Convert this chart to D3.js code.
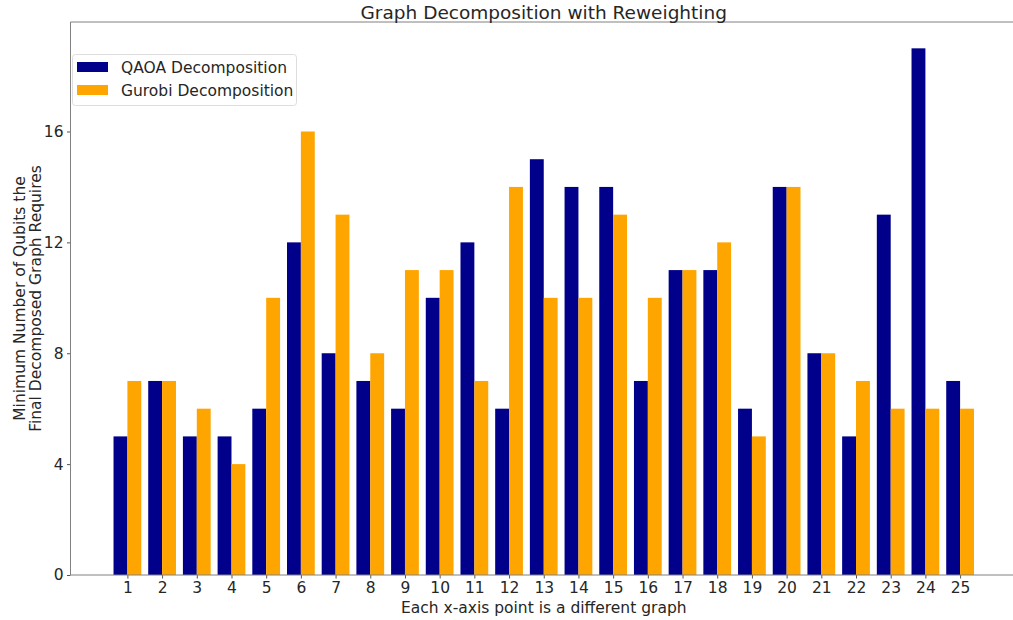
<!DOCTYPE html>
<html><head><meta charset="utf-8">
<script src="https://cdn.jsdelivr.net/npm/d3@7"></script>
<style>body{margin:0;background:#fff;overflow:hidden}svg{display:block;font-family:"DejaVu Sans",sans-serif}</style>
</head><body><svg id="c" width="1013" height="620"></svg>
<script>
const categories = d3.range(1, 26);
const qaoa   = [5,7,5,5,6,12,8,7,6,10,12,6,15,14,14,7,11,11,6,14,8,5,13,19,7];
const gurobi = [7,7,6,4,10,16,13,8,11,11,7,14,10,10,13,10,11,12,5,14,8,7,6,6,6];
const yTicks = [0,4,8,12,16];
const seriesNames = ["QAOA Decomposition","Gurobi Decomposition"];
const colors = ["#00008B","#FFA500"];

const svg = d3.select("#c");
const L = 70.5, R = 1017, T = 22, B = 575;
const x = d3.scaleLinear().domain([-0.64, 26.64]).range([L, R]);
const y = d3.scaleLinear().domain([0, 19.95]).range([B, T]);
const bw = 0.4;

const series = [qaoa, gurobi];
series.forEach((vals, s) => {
  svg.append("g").selectAll("rect").data(vals).enter().append("rect")
    .attr("x", (d,i) => x(categories[i] + (s===0 ? -bw : 0)))
    .attr("width", x(bw) - x(0))
    .attr("y", d => y(d))
    .attr("height", d => y(0) - y(d))
    .attr("fill", colors[s]);
});

// axes
const xAxis = svg.append("g").attr("transform", `translate(0,${B})`)
  .call(d3.axisBottom(x).tickValues(categories).tickSize(3.5).tickPadding(3.5).tickFormat(d3.format("d")));
const yAxis = svg.append("g").attr("transform", `translate(${L},0)`)
  .call(d3.axisLeft(y).tickValues(yTicks).tickSize(3.5).tickPadding(3.5));
[xAxis, yAxis].forEach(g => {
  g.attr("font-family", null).attr("font-size", null);
  g.select(".domain").remove();
  g.selectAll("line").attr("stroke", "#555");
  g.selectAll("text").attr("fill", "#262626").style("font-size", "15.5px").style("font-family", "DejaVu Sans");
});
// spines
[[L,L,T,B],[L,R,B,B],[L,R,T,T],[R,R,T,B]].forEach(([x1,x2,y1,y2]) =>
  svg.append("line").attr("x1", x1).attr("x2", x2).attr("y1", y1).attr("y2", y2).attr("stroke", "#808080"));

// title
svg.append("text").attr("x", (L+R)/2).attr("y", 18.5).attr("text-anchor","middle")
  .style("font-size","18.5px").attr("fill","#262626").text("Graph Decomposition with Reweighting");
// x label
svg.append("text").attr("x", (L+R)/2).attr("y", 612.5).attr("text-anchor","middle")
  .style("font-size","15.5px").attr("fill","#262626").text("Each x-axis point is a different graph");
// y label
const yl = svg.append("text").attr("transform", `translate(0,${(T+B)/2}) rotate(-90)`)
  .attr("text-anchor","middle").style("font-size","15.5px").attr("fill","#262626");
yl.append("tspan").attr("x",0).attr("y",24.5).text("Minimum Number of Qubits the");
yl.append("tspan").attr("x",0).attr("y",41).text("Final Decomposed Graph Requires");

// legend
const lg = svg.append("g");
lg.append("rect").attr("x",72.5).attr("y",54.5).attr("width",224).attr("height",51).attr("rx",3)
  .attr("fill","#fff").attr("fill-opacity",0.8).attr("stroke","#ddd");
seriesNames.forEach((n,i) => {
  lg.append("rect").attr("x",77).attr("y",62+i*23).attr("width",31).attr("height",10).attr("fill",colors[i]);
  lg.append("text").attr("x",121).attr("y",72.5+i*23).style("font-size","15.5px").attr("fill","#262626").text(n);
});
</script></body></html>
